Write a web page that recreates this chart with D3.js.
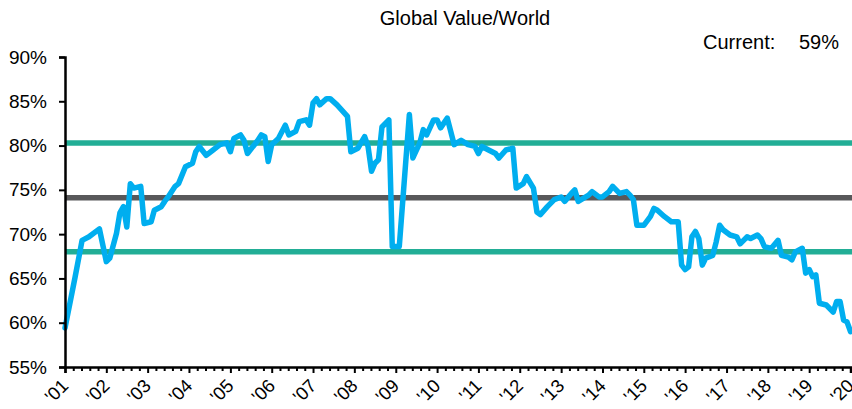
<!DOCTYPE html>
<html>
<head>
<meta charset="utf-8">
<script src="https://cdn.jsdelivr.net/npm/d3@7"></script>
<style>
  html, body { margin: 0; padding: 0; background: #fff; }
  svg { display: block; }
  text { font-family: "Liberation Sans", Arial, sans-serif; fill: #000; }
</style>
</head>
<body>
<svg id="chart" width="852" height="409"></svg>
<script>
// ---- Data ----
const title = "Global Value/World";
const currentLabel = "Current:";
const currentValue = "59%";

const dates = [
  "2001-01","2001-04","2001-06","2001-08","2001-11",
  "2002-01","2002-02","2002-04","2002-05","2002-06","2002-07","2002-08","2002-09","2002-11","2002-12",
  "2003-02","2003-03","2003-05","2003-06","2003-07","2003-09","2003-10","2003-12",
  "2004-02","2004-03","2004-04","2004-06","2004-08","2004-10","2004-12",
  "2005-01","2005-02","2005-04","2005-05","2005-06","2005-08","2005-09","2005-10","2005-11","2005-12",
  "2006-01","2006-03","2006-05","2006-06","2006-08","2006-09","2006-11","2006-12",
  "2007-01","2007-02","2007-03","2007-05","2007-06","2007-08","2007-11","2007-12",
  "2008-02","2008-04","2008-05","2008-06","2008-07","2008-08","2008-09","2008-11","2008-12",
  "2009-02","2009-05","2009-06","2009-08","2009-09","2009-10","2009-12",
  "2010-01","2010-02","2010-04","2010-06","2010-08","2010-10","2010-12",
  "2011-01","2011-02","2011-04","2011-06","2011-07","2011-09","2011-11","2011-12",
  "2012-02","2012-03","2012-05","2012-06","2012-07","2012-09","2012-11",
  "2013-01","2013-02","2013-04","2013-05","2013-06","2013-09","2013-10","2013-12",
  "2014-01","2014-03","2014-04","2014-06","2014-08","2014-09","2014-10","2014-11",
  "2015-01","2015-03","2015-04","2015-05","2015-07","2015-09","2015-11","2015-12",
  "2016-01","2016-02","2016-03","2016-04","2016-05","2016-06","2016-07","2016-09","2016-10","2016-11","2016-12",
  "2017-02","2017-04","2017-05","2017-07","2017-08","2017-10","2017-11","2017-12",
  "2018-02","2018-04","2018-05","2018-07","2018-08","2018-09","2018-11","2018-12",
  "2019-01","2019-02","2019-03","2019-04","2019-06","2019-08","2019-09","2019-10","2019-11","2019-12",
  "2020-01"
];
const values = [
  59.4,65.2,69.3,69.7,70.6,
  66.9,67.3,70.1,72.4,73.1,70.8,75.7,75.2,75.4,71.2,
  71.4,72.7,73.1,73.7,74.2,75.4,75.7,77.6,
  78.0,79.3,79.9,78.9,79.5,80.1,80.3,
  79.3,80.8,81.2,80.6,79.1,80.1,80.6,81.2,81.0,78.2,
  80.1,80.8,82.3,81.2,81.6,82.7,82.9,82.3,
  84.8,85.3,84.6,85.3,85.3,84.6,83.3,79.3,
  79.7,81.0,79.9,77.1,78.0,78.4,82.1,82.9,68.6,
  68.6,83.5,78.6,80.3,81.8,81.2,82.9,
  82.9,82.0,83.1,80.1,80.6,80.1,79.9,
  79.1,79.9,79.5,79.1,78.6,79.5,79.7,75.2,
  75.7,76.5,75.2,72.5,72.2,73.1,73.9,
  74.2,73.7,74.6,75.0,73.7,74.4,74.8,74.2,
  74.2,74.8,75.4,74.6,74.8,74.4,73.9,71.0,
  71.0,72.0,72.9,72.7,72.0,71.4,71.4,66.5,
  66.0,66.3,69.7,70.3,69.5,66.5,67.3,67.6,69.1,71.0,70.5,
  69.9,69.7,68.9,69.7,69.5,69.9,69.5,68.6,
  68.4,69.3,67.6,67.4,67.1,68.0,68.4,65.6,
  66.0,65.2,65.4,62.2,62.0,61.2,62.4,62.4,60.3,60.1,
  59.0
];

const bandUpper = 80.3;
const bandMean = 74.1;
const bandLower = 68.0;

const yTicks = [55, 60, 65, 70, 75, 80, 85, 90];
const xTickYears = d3.range(2001, 2021);

// ---- Layout ----
const svg = d3.select("#chart");
const x0 = 65, x1 = 850.5, yTop = 57, yBot = 367, lineRight = 852;

const parse = d3.timeParse("%Y-%m");
const x = d3.scaleTime()
  .domain([new Date(2001, 0, 1), new Date(2020, 0, 1)])
  .range([x0, x1]);
const y = d3.scaleLinear().domain([55, 90]).range([yBot, yTop]);

const series = dates.map((d, i) => ({ date: parse(d), value: values[i] }));

// Title & current value
svg.append("text").attr("x", 465).attr("y", 25).attr("text-anchor", "middle")
  .style("font-size", "20px").text(title);
svg.append("text").attr("x", 703).attr("y", 49).style("font-size", "20px").text(currentLabel);
svg.append("text").attr("x", 839).attr("y", 49).attr("text-anchor", "end")
  .style("font-size", "20px").text(currentValue);

// Reference lines
const refs = [
  { v: bandUpper, c: "#22ae96" },
  { v: bandLower, c: "#22ae96" },
  { v: bandMean, c: "#58585a" }
];
svg.append("g").selectAll("line").data(refs).join("line")
  .attr("x1", x0).attr("x2", lineRight)
  .attr("y1", d => y(d.v)).attr("y2", d => y(d.v))
  .attr("stroke", d => d.c).attr("stroke-width", 5.5);

// Series line
const line = d3.line().x(d => x(d.date)).y(d => y(d.value));
svg.append("path").datum(series)
  .attr("d", line).attr("fill", "none")
  .attr("stroke", "#00aeef").attr("stroke-width", 5.5)
  .attr("stroke-linejoin", "round").attr("stroke-linecap", "round");

// Y axis
const yAxis = d3.axisLeft(y).tickValues(yTicks).tickFormat(d => d + "%").tickSize(6).tickPadding(12);
const gy = svg.append("g").attr("transform", `translate(${x0},0)`).call(yAxis);
gy.select(".domain").attr("stroke", "#000").attr("stroke-width", 2.5);
gy.selectAll(".tick line").attr("stroke", "#000").attr("stroke-width", 2);
gy.selectAll(".tick text").style("font-size", "19px").style("font-family", '"Liberation Sans", Arial, sans-serif').attr("fill", "#000");

// X axis: minor ticks (5 per year) + major ticks
const minorDates = [];
xTickYears.slice(0, -1).forEach(yr => {
  for (let k = 1; k < 5; k++) {
    const a = new Date(yr, 0, 1).getTime(), b = new Date(yr + 1, 0, 1).getTime();
    minorDates.push(new Date(a + (b - a) * k / 5));
  }
});
const gxMinor = svg.append("g").attr("transform", `translate(0,${yBot})`)
  .call(d3.axisBottom(x).tickValues(minorDates).tickSize(4).tickFormat(""));
gxMinor.select(".domain").remove();
gxMinor.selectAll(".tick line").attr("stroke", "#000").attr("stroke-width", 2);

const majorDates = xTickYears.map(yr => new Date(yr, 0, 1));
const gx = svg.append("g").attr("transform", `translate(0,${yBot})`)
  .call(d3.axisBottom(x).tickValues(majorDates).tickSize(6)
    .tickFormat(d => "'" + d3.timeFormat("%y")(d)));
gx.select(".domain").attr("stroke", "#000").attr("stroke-width", 2.5);
gx.selectAll(".tick line").attr("stroke", "#000").attr("stroke-width", 2);
gx.selectAll(".tick text")
  .style("font-size", "18.5px").style("font-family", '"Liberation Sans", Arial, sans-serif').attr("fill", "#000")
  .attr("text-anchor", "end")
  .attr("x", 0).attr("y", 0).attr("dy", 0)
  .attr("transform", "translate(4,20) rotate(-45)");
</script>
</body>
</html>
